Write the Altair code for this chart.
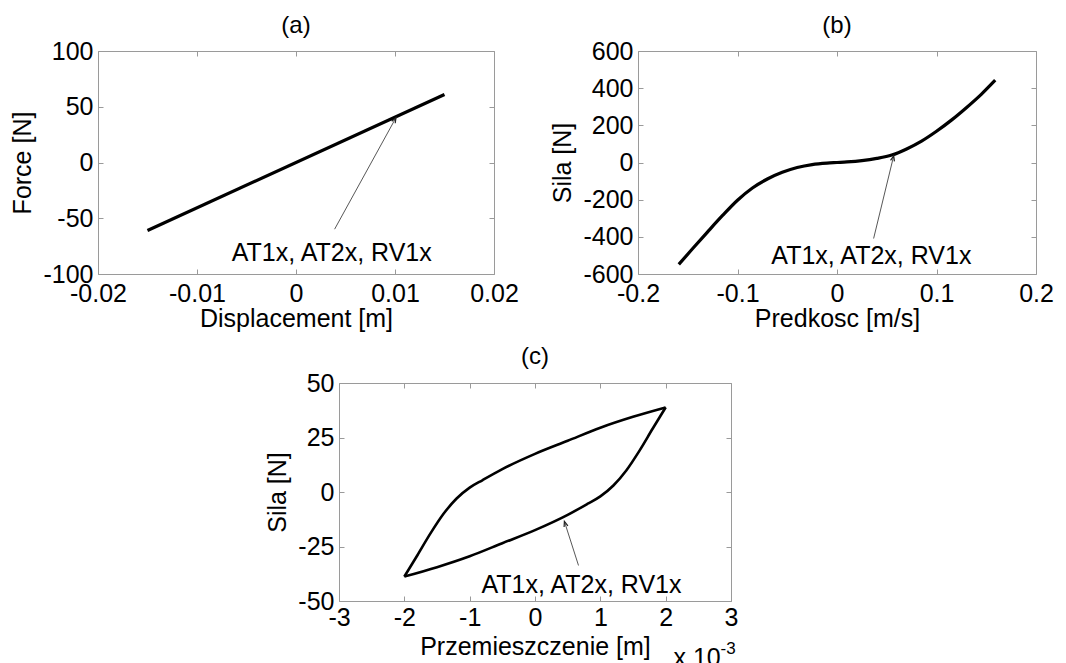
import math
import altair as alt
import pandas as pd

FONT = "Liberation Sans"
FS = 25          # tick labels, axis titles, annotations
FS_T = 24        # panel titles
BOX = "#9a9a9a"
ANN = "AT1x, AT2x, RV1x"

# ---------------- data ----------------
# (a) Force vs displacement
a_disp = [-0.015, 0.015]
a_force = [-61.0, 61.0]

# (b) Force vs velocity
b_vel = [-0.159, -0.145, -0.13, -0.115, -0.1, -0.085, -0.07, -0.055, -0.04, -0.025,
         -0.01, 0.0, 0.01, 0.025, 0.04, 0.055, 0.07, 0.085, 0.1, 0.115, 0.13, 0.145, 0.159]
b_force = [-548, -463, -373, -285, -203, -137, -89, -53, -27, -11,
           -3, 0, 3, 10, 22, 40, 73, 115, 168, 228, 295, 367, 443]

# (c) hysteresis loop, displacement in 1e-3 m
c_up_x = [-2.0, -1.8, -1.6, -1.4, -1.2, -1.0, -0.8, -0.5, 0.0, 0.5, 1.0, 1.5, 2.0]
c_up_f = [-38.8, -29, -19, -10, -3, 2, 5.5, 10.5, 17.5, 23.5, 29.5, 34.5, 38.8]
c_lo_x = [2.0, 1.8, 1.6, 1.4, 1.2, 1.0, 0.8, 0.5, 0.0, -0.5, -1.0, -1.5, -2.0]
c_lo_f = [38.8, 29, 19, 10, 3, -2, -5.5, -10.5, -17.5, -23.5, -29.5, -34.5, -38.8]

# axis ticks
a_xticks = [-0.02, -0.01, 0, 0.01, 0.02]
a_yticks = [-100, -50, 0, 50, 100]
b_xticks = [-0.2, -0.1, 0, 0.1, 0.2]
b_yticks = [-600, -400, -200, 0, 200, 400, 600]
c_xticks = [-3, -2, -1, 0, 1, 2, 3]
c_yticks = [-50, -25, 0, 25, 50]

# annotation: text left/baseline, arrow tail, arrow tip (data units)
a_ann = dict(tx=-0.0065, ty=-88.7, x0=0.0039, y0=-59.8, x1=0.0101, y1=40.2)
b_ann = dict(tx=-0.066, ty=-544, x0=0.0368, y0=-409, x1=0.057, y1=36)
c_ann = dict(tx=-0.82, ty=-46.3, x0=0.666, y0=-33.7, x1=0.45, y1=-13.5)

# exponent label of the x axis in (c)
c_exp_text = ["x 10", "-3"]
c_exp_x = [2.12, 2.84]
c_exp_y = [-79.6, -74.2]
c_exp_fs = [25, 17]

ARROW_PATH = "M -0.38 1 L 0 0 L 0.38 1"


def panel(title, tofs, xtitle, ytitle, xdom, ydom, xticks, yticks, W, H,
          line_df, sw, ann, xlp, xtp, extra=None):
    xs = alt.Scale(domain=xdom, nice=False, zero=False)
    ys = alt.Scale(domain=ydom, nice=False, zero=False)
    common = dict(labelFont=FONT, titleFont=FONT, labelFontSize=FS, titleFontSize=FS,
                  titleFontWeight="normal", labelColor="black", titleColor="black",
                  gridColor=BOX, gridOpacity=1, ticks=False, domain=False,
                  labelFlush=False, labelOverlap=False, labelExpr="'' + datum.value")
    xax = alt.Axis(values=xticks, title=xtitle, grid=True, gridDash=[5, H - 10, 5],
                   labelPadding=xlp, titlePadding=xtp, **common)
    yax = alt.Axis(values=yticks, title=ytitle, grid=True, gridDash=[5, W - 10, 5],
                   labelPadding=5, titlePadding=7, **common)
    X = lambda f: alt.X(f, type="quantitative", scale=xs, axis=xax)
    Y = lambda f: alt.Y(f, type="quantitative", scale=ys, axis=yax)

    line = alt.Chart(line_df).mark_line(
        color="black", strokeWidth=sw, interpolate="monotone"
    ).encode(x=X("x"), y=Y("y"), detail="branch:N")

    dx = (ann["x1"] - ann["x0"]) / (xdom[1] - xdom[0]) * W
    dy = -(ann["y1"] - ann["y0"]) / (ydom[1] - ydom[0]) * H
    ang = math.degrees(math.atan2(dx, -dy)) % 360
    adf = pd.DataFrame([{**ann, "label": ANN}])

    shaft = alt.Chart(adf).mark_rule(color="#444", strokeWidth=0.9).encode(
        x=X("x0"), y=Y("y0"), x2="x1", y2="y1")
    head = alt.Chart(adf).mark_point(
        shape=ARROW_PATH, size=110, angle=ang, filled=False,
        color="#222", strokeWidth=1.2, opacity=1
    ).encode(x=X("x1"), y=Y("y1"))
    txt = alt.Chart(adf).mark_text(
        align="left", baseline="alphabetic", font=FONT, fontSize=FS, color="black"
    ).encode(x=X("tx"), y=Y("ty"), text="label:N")

    layers = [line, shaft, head, txt]
    if extra is not None:
        layers.append(alt.Chart(extra).mark_text(
            align="left", baseline="alphabetic", font=FONT, color="black"
        ).encode(x=X("x"), y=Y("y"), text="t:N",
                 size=alt.Size("fs:Q", scale=None, legend=None)))
    return alt.layer(*layers).properties(
        width=W, height=H,
        title=alt.TitleParams(title, font=FONT, fontSize=FS_T, fontWeight="normal",
                              color="black", anchor="middle", offset=tofs))


df_a = pd.DataFrame({"x": a_disp, "y": a_force, "branch": "a"})
df_b = pd.DataFrame({"x": b_vel, "y": b_force, "branch": "b"})
df_c = pd.concat([
    pd.DataFrame({"x": c_up_x, "y": c_up_f, "branch": "up"}),
    pd.DataFrame({"x": c_lo_x, "y": c_lo_f, "branch": "lo"}),
])
df_exp = pd.DataFrame({"x": c_exp_x, "y": c_exp_y, "t": c_exp_text, "fs": c_exp_fs})

pa = panel("(a)", 1, "Displacement [m]", "Force [N]", [-0.02, 0.02], [-100, 100],
           a_xticks, a_yticks, 396, 223, df_a, 3.2, a_ann, 7, 0)
pb = panel("(b)", 1, "Predkosc [m/s]", "Sila [N]", [-0.2, 0.2], [-600, 600],
           b_xticks, b_yticks, 398, 223, df_b, 3.2, b_ann, 7, 0)
pc = panel("(c)", 2, "Przemieszczenie [m]", "Sila [N]", [-3, 3], [-50, 50],
           c_xticks, c_yticks, 392, 218, df_c, 2.6, c_ann, 4, 4, extra=df_exp)

spacer = alt.Chart(pd.DataFrame({"v": [0]})).mark_point(opacity=0, size=1).encode(
    x=alt.X("v:Q", axis=None), y=alt.Y("v:Q", axis=None)
).properties(width=147, height=10, view=alt.ViewBackground(strokeOpacity=0))

top = alt.hconcat(pa, pb, spacing=31)
bottom = alt.hconcat(spacer, pc, spacing=20)

chart = alt.vconcat(top, bottom, spacing=12).properties(
    padding={"left": 2, "top": 5, "right": 0, "bottom": 0},
    background="white",
).configure_view(stroke=BOX, strokeWidth=1)

chart.save("out.html", embed_options={"renderer": "svg", "actions": False})
